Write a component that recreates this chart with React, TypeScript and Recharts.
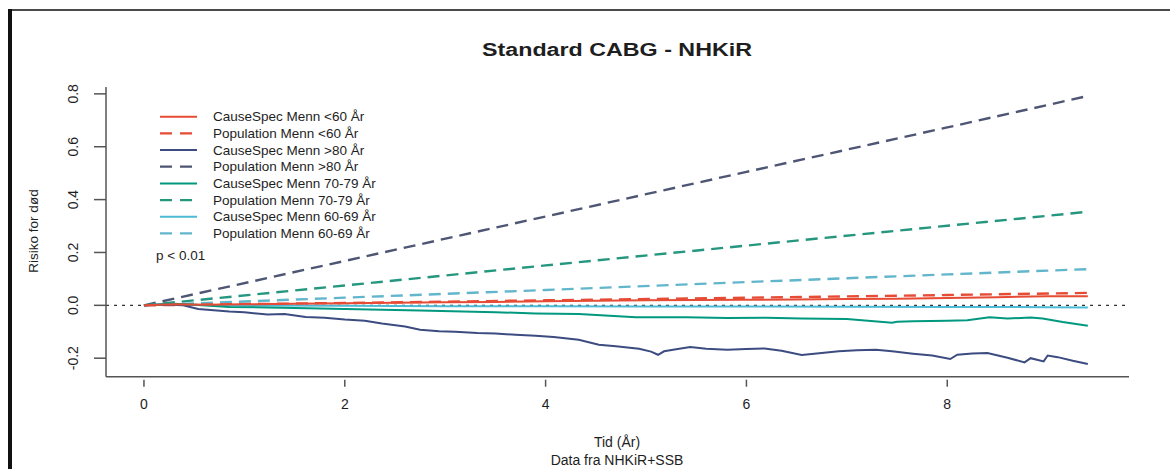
import React from 'react';
import { LineChart, Line, XAxis, YAxis, ReferenceLine, Customized } from 'recharts';

const FONT = '"Liberation Sans", Arial, Helvetica, sans-serif';

const chartTitle = 'Standard CABG - NHKiR';
const xLabel = 'Tid (År)';
const xSubLabel = 'Data fra NHKiR+SSB';
const yLabel = 'Risiko for død';
const pValueText = 'p < 0.01';

const xTicks = [0, 2, 4, 6, 8];
const yTicks = [-0.2, 0, 0.2, 0.4, 0.6, 0.8];

// Population (expected) curves
const popTimes = [0, 2, 4, 6, 8, 9.4];
const popUnder60 = [0, 0.009, 0.019, 0.029, 0.039, 0.047];
const popOver80 = [0, 0.168, 0.336, 0.505, 0.673, 0.792];
const pop70to79 = [0, 0.075, 0.151, 0.226, 0.301, 0.354];
const pop60to69 = [0, 0.029, 0.058, 0.088, 0.117, 0.137];

// Cause-specific curves
const csUnder60Times = [0, 0.3, 0.6, 1, 1.5, 2, 2.5, 3, 3.5, 4, 4.5, 5, 5.5, 6, 6.5, 7, 7.5, 8, 8.5, 9, 9.4];
const csUnder60 = [0, 0.004, 0.002, 0.004, 0.006, 0.008, 0.01, 0.012, 0.013, 0.015, 0.017, 0.019, 0.02, 0.021, 0.022, 0.024, 0.025, 0.028, 0.031, 0.034, 0.034];

const csOver80Times = [0, 0.2, 0.39, 0.54, 0.85, 1.0, 1.23, 1.4, 1.61, 1.8, 2.0, 2.2, 2.37, 2.6, 2.75, 2.94, 3.1, 3.32, 3.5, 3.7, 3.9, 4.08, 4.33, 4.53, 4.7, 4.93, 5.05, 5.12, 5.18, 5.3, 5.44, 5.6, 5.81, 6.0, 6.18, 6.35, 6.55, 6.7, 6.92, 7.1, 7.29, 7.45, 7.66, 7.85, 8.03, 8.1, 8.25, 8.4, 8.6, 8.77, 8.83, 8.96, 9.0, 9.1, 9.25, 9.4];
const csOver80 = [0, 0.003, 0.0, -0.014, -0.023, -0.026, -0.035, -0.033, -0.044, -0.047, -0.054, -0.058, -0.069, -0.08, -0.092, -0.098, -0.1, -0.105, -0.107, -0.111, -0.115, -0.12, -0.13, -0.149, -0.155, -0.164, -0.175, -0.187, -0.174, -0.166, -0.158, -0.164, -0.168, -0.165, -0.163, -0.172, -0.188, -0.182, -0.174, -0.17, -0.168, -0.174, -0.183, -0.19, -0.203, -0.187, -0.182, -0.18, -0.198, -0.216, -0.2, -0.212, -0.19, -0.196, -0.21, -0.222];

const cs70to79Times = [0, 0.3, 0.5, 0.85, 1.5, 2.0, 2.75, 3.5, 3.9, 4.33, 4.9, 5.4, 5.81, 6.2, 6.55, 7.0, 7.45, 7.5, 7.66, 8.0, 8.2, 8.42, 8.6, 8.83, 8.95, 9.15, 9.4];
const cs70to79 = [0, 0.006, 0.002, -0.006, -0.01, -0.014, -0.02, -0.026, -0.031, -0.033, -0.045, -0.045, -0.048, -0.047, -0.05, -0.052, -0.066, -0.062, -0.06, -0.058, -0.056, -0.045, -0.05, -0.046, -0.05, -0.063, -0.077];

const cs60to69Times = [0, 0.3, 0.6, 1, 2, 3, 4, 5, 6, 7, 8, 9, 9.4];
const cs60to69 = [0, 0.005, 0.001, -0.001, -0.002, -0.003, -0.003, -0.004, -0.004, -0.005, -0.006, -0.007, -0.008];

const RED = '#E64B35';
const NAVY = '#3C4C80';
const NAVY_DASH = '#4E5674';
const TEAL = '#00997F';
const TEAL_DASH = '#25977E';
const LBLUE = '#4DBBD5';
const LBLUE_DASH = '#62B6CC';

const toRows = (ts: number[], vs: number[]) => ts.map((t, i) => ({ t, v: vs[i] }));

const series = [
  { key: 'csU60', name: 'CauseSpec Menn <60 År', color: RED, dashed: false, data: toRows(csUnder60Times, csUnder60) },
  { key: 'popU60', name: 'Population Menn <60 År', color: RED, dashed: true, data: toRows(popTimes, popUnder60) },
  { key: 'csO80', name: 'CauseSpec Menn >80 År', color: NAVY, dashed: false, data: toRows(csOver80Times, csOver80) },
  { key: 'popO80', name: 'Population Menn >80 År', color: NAVY_DASH, dashed: true, data: toRows(popTimes, popOver80) },
  { key: 'cs7079', name: 'CauseSpec Menn 70-79 År', color: TEAL, dashed: false, data: toRows(cs70to79Times, cs70to79) },
  { key: 'pop7079', name: 'Population Menn 70-79 År', color: TEAL_DASH, dashed: true, data: toRows(popTimes, pop70to79) },
  { key: 'cs6069', name: 'CauseSpec Menn 60-69 År', color: LBLUE, dashed: false, data: toRows(cs60to69Times, cs60to69) },
  { key: 'pop6069', name: 'Population Menn 60-69 År', color: LBLUE_DASH, dashed: true, data: toRows(popTimes, pop60to69) },
];

const drawOrder = ['popO80', 'pop7079', 'pop6069', 'popU60', 'cs6069', 'csO80', 'cs7079', 'csU60'];

const AXIS_COLOR = '#555';
const TEXT_COLOR = '#1e1e1e';

const XTick = (props: any) => {
  const { x, y, payload } = props;
  return (
    <g>
      <line x1={x} x2={x} y1={y + 3} y2={y + 10} stroke={AXIS_COLOR} strokeWidth={1.5} />
      <text x={x} y={y + 27} textAnchor="middle" dominantBaseline="central" fontFamily={FONT} fontSize={14} fill={TEXT_COLOR}>
        {payload.value}
      </text>
    </g>
  );
};

const YTick = (props: any) => {
  const { x, y, payload } = props;
  const tx = x - 33;
  return (
    <g>
      <line x1={x - 12} x2={x} y1={y} y2={y} stroke={AXIS_COLOR} strokeWidth={1.5} />
      <text x={tx} y={y} transform={`rotate(-90 ${tx} ${y})`} textAnchor="middle" dominantBaseline="central" fontFamily={FONT} fontSize={14} fill={TEXT_COLOR}>
        {Number(payload.value).toFixed(1)}
      </text>
    </g>
  );
};

const Overlay = () => {
  const legX1 = 160;
  const legX2 = 197;
  const legTextX = 213;
  const legY0 = 116.7;
  const legStep = 16.67;
  return (
    <g>
      <rect x={8} y={9} width={1162} height={2} fill="#4a4a4a" />
      <rect x={8} y={9} width={4} height={460} fill="#111" />
      <text x={617} y={50} textAnchor="middle" dominantBaseline="central" fontFamily={FONT} fontWeight="bold" fontSize={18} textLength={270} lengthAdjust="spacingAndGlyphs" fill={TEXT_COLOR}>
        {chartTitle}
      </text>
      {series.map((s, i) => {
        const y = legY0 + i * legStep;
        return (
          <g key={s.key}>
            <line x1={legX1} x2={s.dashed ? 192 : legX2} y1={y} y2={y} stroke={s.color} strokeWidth={s.dashed ? 2.2 : 2} strokeDasharray={s.dashed ? '12 8' : undefined} />
            <text x={legTextX} y={y} dominantBaseline="central" fontFamily={FONT} fontSize={13.5} fill={TEXT_COLOR}>
              {s.name}
            </text>
          </g>
        );
      })}
      <text x={156} y={255} dominantBaseline="central" fontFamily={FONT} fontSize={13.5} fill={TEXT_COLOR}>
        {pValueText}
      </text>
      <text x={617} y={441.7} textAnchor="middle" dominantBaseline="central" fontFamily={FONT} fontSize={14} fill={TEXT_COLOR}>
        {xLabel}
      </text>
      <text x={617} y={460} textAnchor="middle" dominantBaseline="central" fontFamily={FONT} fontSize={14} fill={TEXT_COLOR}>
        {xSubLabel}
      </text>
      <text x={33} y={231} transform="rotate(-90 33 231)" textAnchor="middle" dominantBaseline="central" fontFamily={FONT} fontSize={13.5} fill={TEXT_COLOR}>
        {yLabel}
      </text>
    </g>
  );
};

export default function App() {
  const byKey: Record<string, any> = {};
  series.forEach((s) => (byKey[s.key] = s));
  return (
    <div style={{ position: 'absolute', left: 0, top: 0, width: 1170, height: 469, background: '#fff' }}>
      <LineChart width={1170} height={469} margin={{ top: 87, right: 41, bottom: 62.3, left: 66 }}>
        <XAxis
          type="number"
          dataKey="t"
          domain={[-0.378, 9.81]}
          ticks={xTicks}
          allowDataOverflow
          height={30}
          tickSize={0}
          tickMargin={0}
          tickLine={false}
          tick={XTick}
          axisLine={{ stroke: AXIS_COLOR, strokeWidth: 1.5 }}
        />
        <YAxis
          type="number"
          domain={[-0.27, 0.826]}
          ticks={yTicks}
          allowDataOverflow
          width={40}
          tickSize={0}
          tickMargin={0}
          tickLine={false}
          tick={YTick}
          axisLine={{ stroke: AXIS_COLOR, strokeWidth: 1.5 }}
        />
        <ReferenceLine y={0} stroke="#333" strokeDasharray="3 5" strokeWidth={1.3} />
        {drawOrder.map((k) => {
          const s = byKey[k];
          return (
            <Line
              key={s.key}
              data={s.data}
              dataKey="v"
              name={s.name}
              type="linear"
              stroke={s.color}
              strokeWidth={s.dashed ? 2.4 : 2}
              strokeDasharray={s.dashed ? '12 7' : undefined}
              dot={false}
              activeDot={false}
              isAnimationActive={false}
            />
          );
        })}
        <Customized component={Overlay} />
      </LineChart>
    </div>
  );
}
